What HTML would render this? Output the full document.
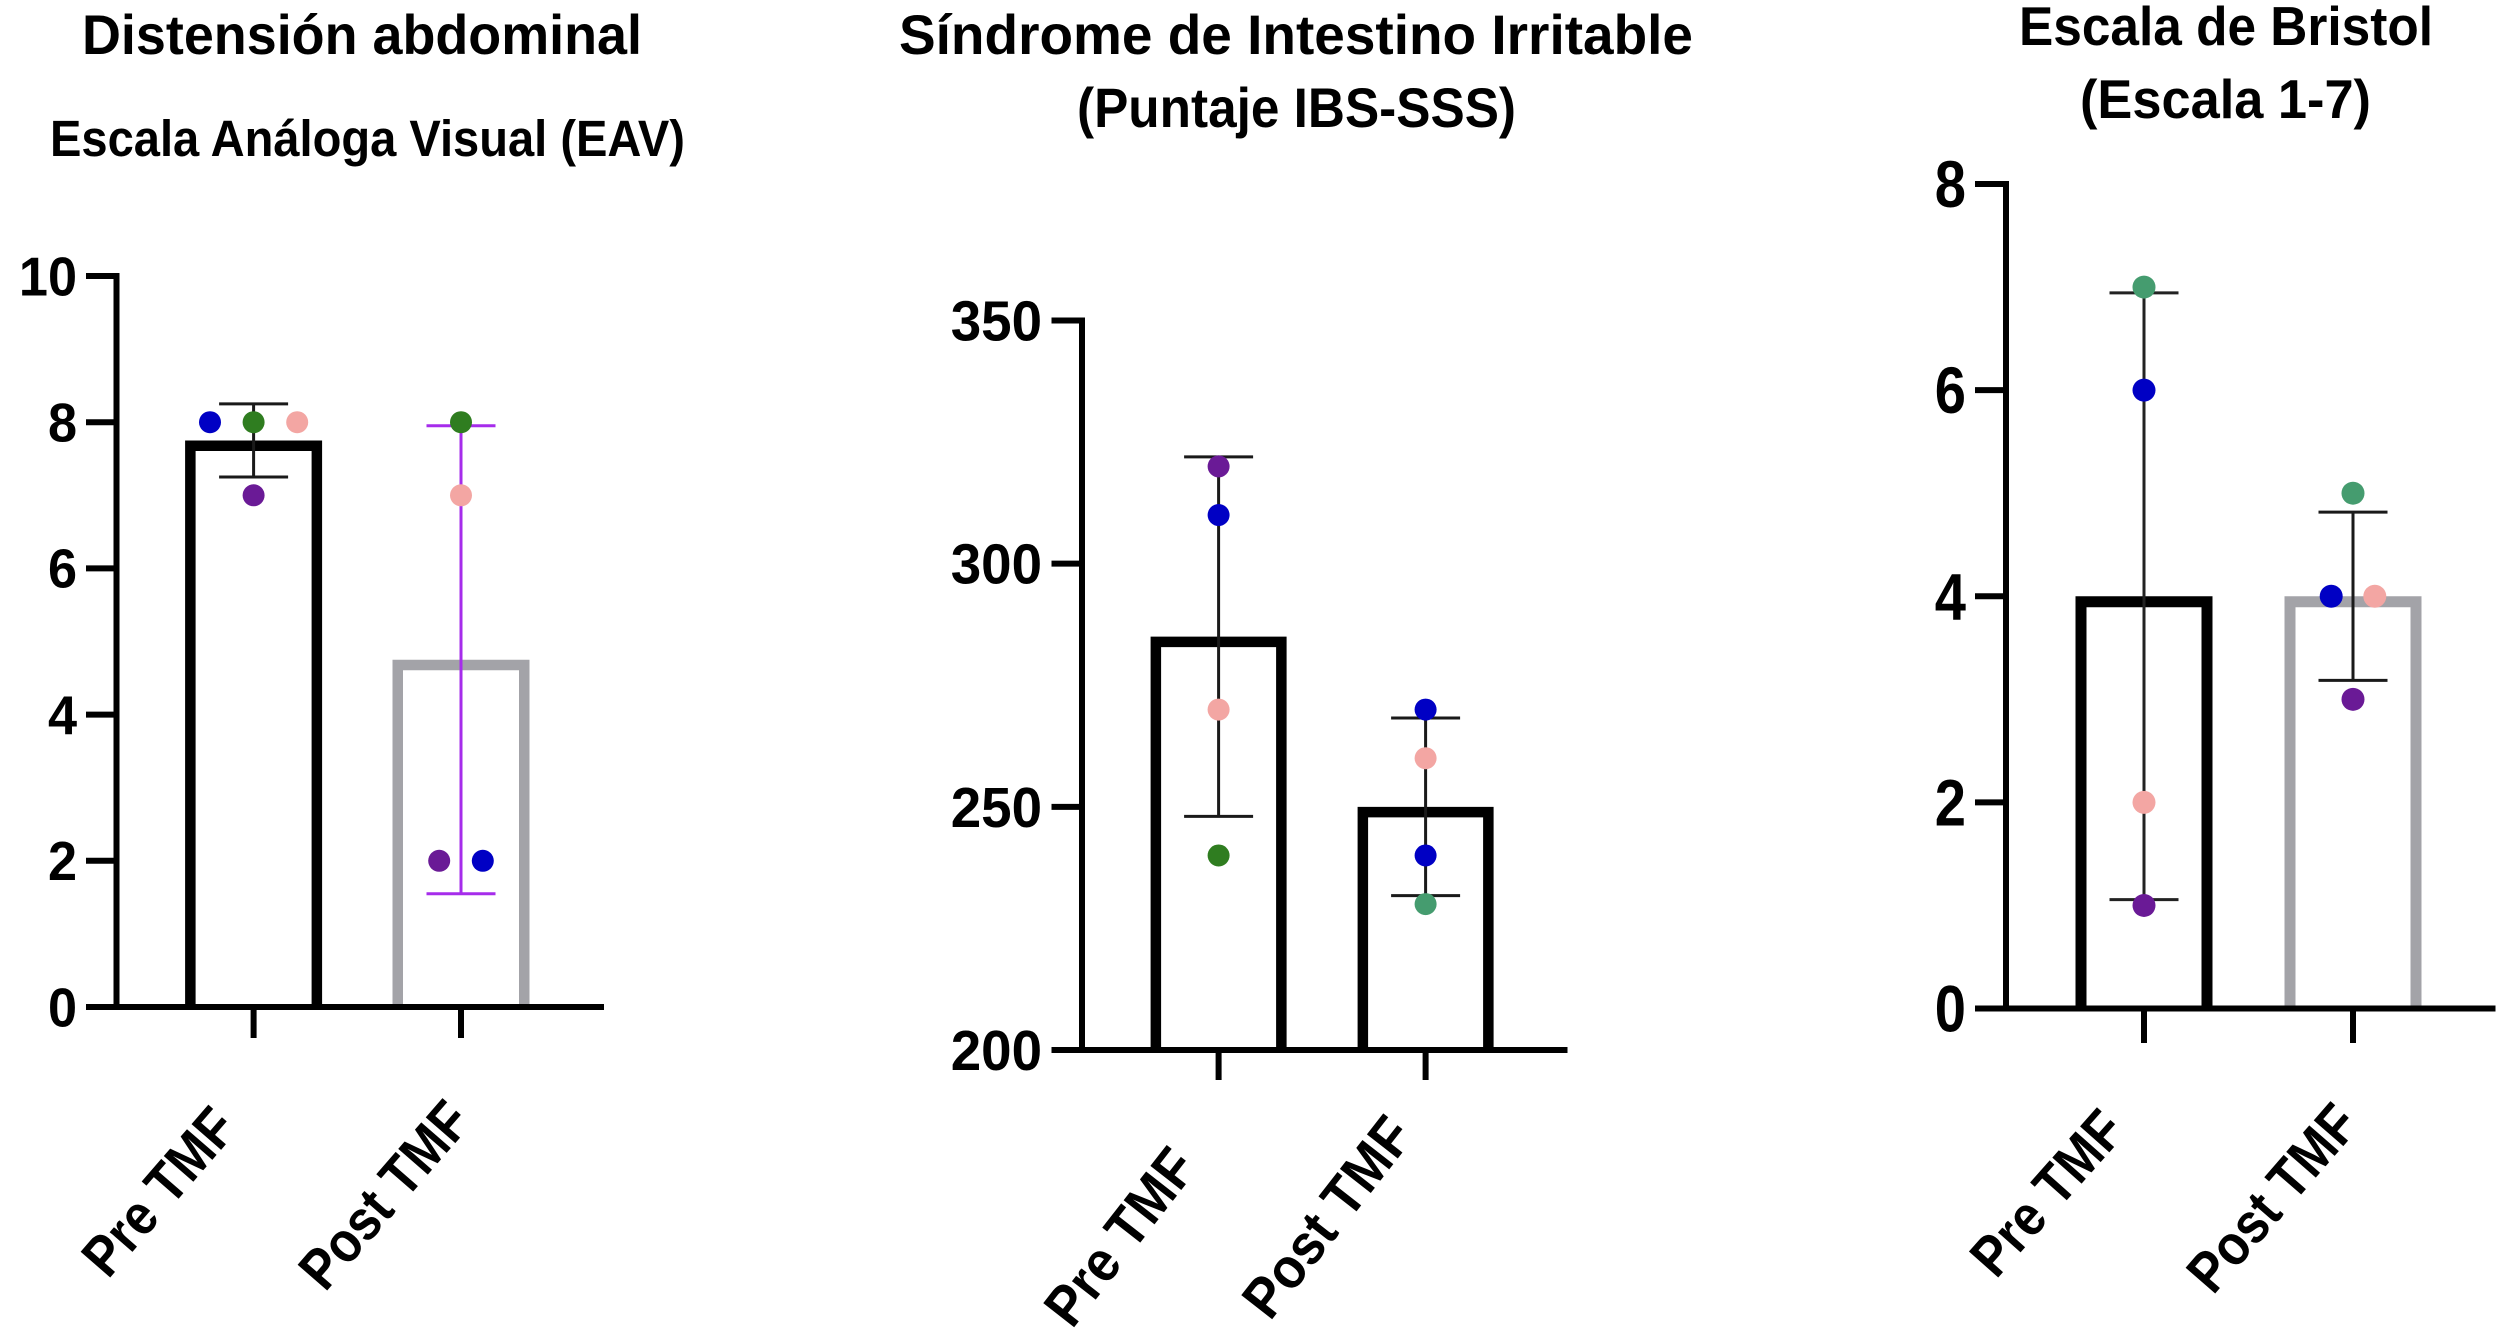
<!DOCTYPE html>
<html lang="es">
<head>
<meta charset="utf-8">
<title>Distensión abdominal, Síndrome de Intestino Irritable y Escala de Bristol</title>
<style>
  html, body { margin: 0; padding: 0; background: #fff; }
  #figure { display: block; width: 2500px; height: 1331px; background: #fff; }
  text { font-family: "Liberation Sans", Arial, sans-serif; font-weight: 700; fill: #000; }
</style>
</head>
<body>
<svg id="figure" xmlns="http://www.w3.org/2000/svg" width="2500" height="1331" viewBox="0 0 2500 1331">
  <text x="82" y="54" font-size="56" textLength="560" lengthAdjust="spacingAndGlyphs">Distensión abdominal</text>
  <text x="50" y="156" font-size="51" textLength="635" lengthAdjust="spacingAndGlyphs">Escala Análoga Visual (EAV)</text>
  <text x="899" y="54" font-size="56" textLength="794" lengthAdjust="spacingAndGlyphs">Síndrome de Intestino Irritable</text>
  <text x="1077" y="127" font-size="56" textLength="439" lengthAdjust="spacingAndGlyphs">(Puntaje IBS-SSS)</text>
  <text x="2019" y="45" font-size="55" textLength="414" lengthAdjust="spacingAndGlyphs">Escala de Bristol</text>
  <text x="2080" y="118" font-size="55" textLength="291" lengthAdjust="spacingAndGlyphs">(Escala 1-7)</text>
</svg>
<script>
// ---- Data ----
const categories = ['Pre TMF', 'Post TMF'];

const distensionTicks = [0, 2, 4, 6, 8, 10];
const distensionPre = [8, 8, 8, 7];
const distensionPost = [8, 7, 2, 2];

const ibsTicks = [200, 250, 300, 350];
const ibsPre = [320, 310, 270, 240];
const ibsPost = [270, 260, 240, 230];

const bristolTicks = [0, 2, 4, 6, 8];
const bristolPre = [7, 6, 2, 1];
const bristolPost = [5, 4, 4, 3];

// ---- Point colours, one per value above ----
const BLUE = '#0000c4', GREEN = '#2f7d20', TEAL = '#459c6f', PINK = '#f3a6a3', PURPLE = '#6a1a96';
const distensionPreColors = [BLUE, GREEN, PINK, PURPLE];
const distensionPostColors = [GREEN, PINK, PURPLE, BLUE];
const ibsPreColors = [PURPLE, BLUE, PINK, GREEN];
const ibsPostColors = [BLUE, PINK, BLUE, TEAL];
const bristolPreColors = [TEAL, BLUE, PINK, PURPLE];
const bristolPostColors = [TEAL, BLUE, PINK, PURPLE];

// ---- Layout ----
const SVG_NS = 'http://www.w3.org/2000/svg';
const figure = document.getElementById('figure');

function make(tag, attrs, parent) {
  const el = document.createElementNS(SVG_NS, tag);
  Object.keys(attrs).forEach(function (k) { el.setAttribute(k, attrs[k]); });
  parent.appendChild(el);
  return el;
}
function mean(a) { return a.reduce(function (s, v) { return s + v; }, 0) / a.length; }
function sd(a) {
  const m = mean(a);
  return Math.sqrt(a.reduce(function (s, v) { return s + (v - m) * (v - m); }, 0) / (a.length - 1));
}

function drawChart(cfg) {
  const domainMin = cfg.ticks[0];
  const domainMax = cfg.ticks[cfg.ticks.length - 1];
  const yScale = function (v) {
    return cfg.yBottom + (v - domainMin) / (domainMax - domainMin) * (cfg.yTop - cfg.yBottom);
  };

  const root = make('g', {}, figure);
  
  

  cfg.groups.forEach(function (values, g) {
    const cx = cfg.xCenters[g];
    const m = mean(values);
    const s = sd(values);
    const slug = categories[g].toLowerCase().replace(' ', '-');
    const half = (cfg.barWidth - cfg.barStroke) / 2;
    const top = yScale(m) + cfg.barStroke / 2;

    const bar = make('path', {
      d: 'M' + (cx - half) + ' ' + cfg.yBottom + 'V' + top + 'H' + (cx + half) + 'V' + cfg.yBottom,
      fill: 'none',
      stroke: cfg.barColors[g],
      'stroke-width': cfg.barStroke
    }, root);
    
    

    const yHigh = yScale(m + s);
    const yLow = yScale(m - s);
    const ew = make('path', {
      d: 'M' + (cx - 34.5) + ' ' + yHigh + 'H' + (cx + 34.5) +
         'M' + cx + ' ' + yHigh + 'V' + yLow +
         'M' + (cx - 34.5) + ' ' + yLow + 'H' + (cx + 34.5),
      fill: 'none',
      stroke: cfg.errorColors[g],
      'stroke-width': 3
    }, root);
    
    

    values.forEach(function (v, i) {
      const same = values.filter(function (o) { return o === v; }).length;
      const rank = values.slice(0, i).filter(function (o) { return o === v; }).length;
      const dot = make('circle', {
        cx: cx + (rank - (same - 1) / 2) * 43.6,
        cy: yScale(v),
        r: cfg.dotRadius,
        fill: cfg.colors[g][i]
      }, root);
      
      
    });
  });

  // Axes are painted above the bar bases
  const yAxis = make('path', {
    d: 'M' + cfg.xAxis + ' ' + (cfg.yBottom + 3) + 'V' + (cfg.yTop - 3),
    fill: 'none', stroke: '#000', 'stroke-width': 6
  }, root);
  
  

  const xAxis = make('path', {
    d: 'M' + cfg.xTickLeft + ' ' + cfg.yBottom + 'H' + cfg.xRight,
    fill: 'none', stroke: '#000', 'stroke-width': 6
  }, root);
  
  

  cfg.ticks.forEach(function (t) {
    const y = yScale(t);
    const tick = make('path', {
      d: 'M' + cfg.xTickLeft + ' ' + y + 'H' + cfg.xAxis,
      fill: 'none', stroke: '#000', 'stroke-width': 6
    }, root);
    
    

    const label = make('text', {
      transform: 'translate(' + cfg.labelRight + ' ' + (y + cfg.labelFont * 0.35) + ') scale(' + cfg.labelScale + ' 1)',
      'text-anchor': 'end',
      'font-size': cfg.labelFont
    }, root);
    label.textContent = String(t);
    
    
  });

  categories.forEach(function (c, g) {
    const cx = cfg.xCenters[g];
    const tick = make('path', {
      d: 'M' + cx + ' ' + cfg.yBottom + 'V' + cfg.xTickBottom,
      fill: 'none', stroke: '#000', 'stroke-width': 6
    }, root);
    
    

    const lab = cfg.catLabels[g];
    const label = make('text', {
      transform: 'translate(' + lab.x + ' ' + lab.y + ') rotate(' + lab.angle + ')',
      'font-size': 57,
      textLength: lab.len,
      lengthAdjust: 'spacingAndGlyphs'
    }, root);
    label.textContent = c;
    
    
  });
}

drawChart({
  name: 'distension',
  ticks: distensionTicks,
  groups: [distensionPre, distensionPost],
  colors: [distensionPreColors, distensionPostColors],
  barColors: ['#000', '#a3a3a8'],
  errorColors: ['#1a1a1a', '#a62ceb'],
  xCenters: [253.6, 461],
  xAxis: 116.5, xTickLeft: 86, xRight: 604,
  yTop: 276, yBottom: 1007, xTickBottom: 1038,
  barWidth: 137, barStroke: 10.5, dotRadius: 11,
  labelRight: 77, labelFont: 55, labelScale: 0.95,
  catLabels: [
    { x: 108, y: 1280, angle: -49, len: 200 },
    { x: 325, y: 1293, angle: -49, len: 226 }
  ]
});

drawChart({
  name: 'ibs',
  ticks: ibsTicks,
  groups: [ibsPre, ibsPost],
  colors: [ibsPreColors, ibsPostColors],
  barColors: ['#000', '#000'],
  errorColors: ['#1a1a1a', '#1a1a1a'],
  xCenters: [1218.6, 1425.6],
  xAxis: 1082, xTickLeft: 1051.5, xRight: 1567.5,
  yTop: 320.5, yBottom: 1050, xTickBottom: 1080,
  barWidth: 136, barStroke: 10.5, dotRadius: 11,
  labelRight: 1042, labelFont: 57, labelScale: 0.96,
  catLabels: [
    { x: 1072, y: 1330, angle: -52, len: 206 },
    { x: 1270, y: 1322, angle: -52, len: 236 }
  ]
});

drawChart({
  name: 'bristol',
  ticks: bristolTicks,
  groups: [bristolPre, bristolPost],
  colors: [bristolPreColors, bristolPostColors],
  barColors: ['#000', '#a3a3a8'],
  errorColors: ['#222', '#1a1a1a'],
  xCenters: [2144, 2353],
  xAxis: 2006, xTickLeft: 1975, xRight: 2495.5,
  yTop: 184, yBottom: 1008.5, xTickBottom: 1043,
  barWidth: 137, barStroke: 11, dotRadius: 11.5,
  labelRight: 1966, labelFont: 66, labelScale: 0.85,
  catLabels: [
    { x: 1996, y: 1280, angle: -48.4, len: 198 },
    { x: 2213, y: 1296, angle: -49, len: 226 }
  ]
});
</script>
</body>
</html>
